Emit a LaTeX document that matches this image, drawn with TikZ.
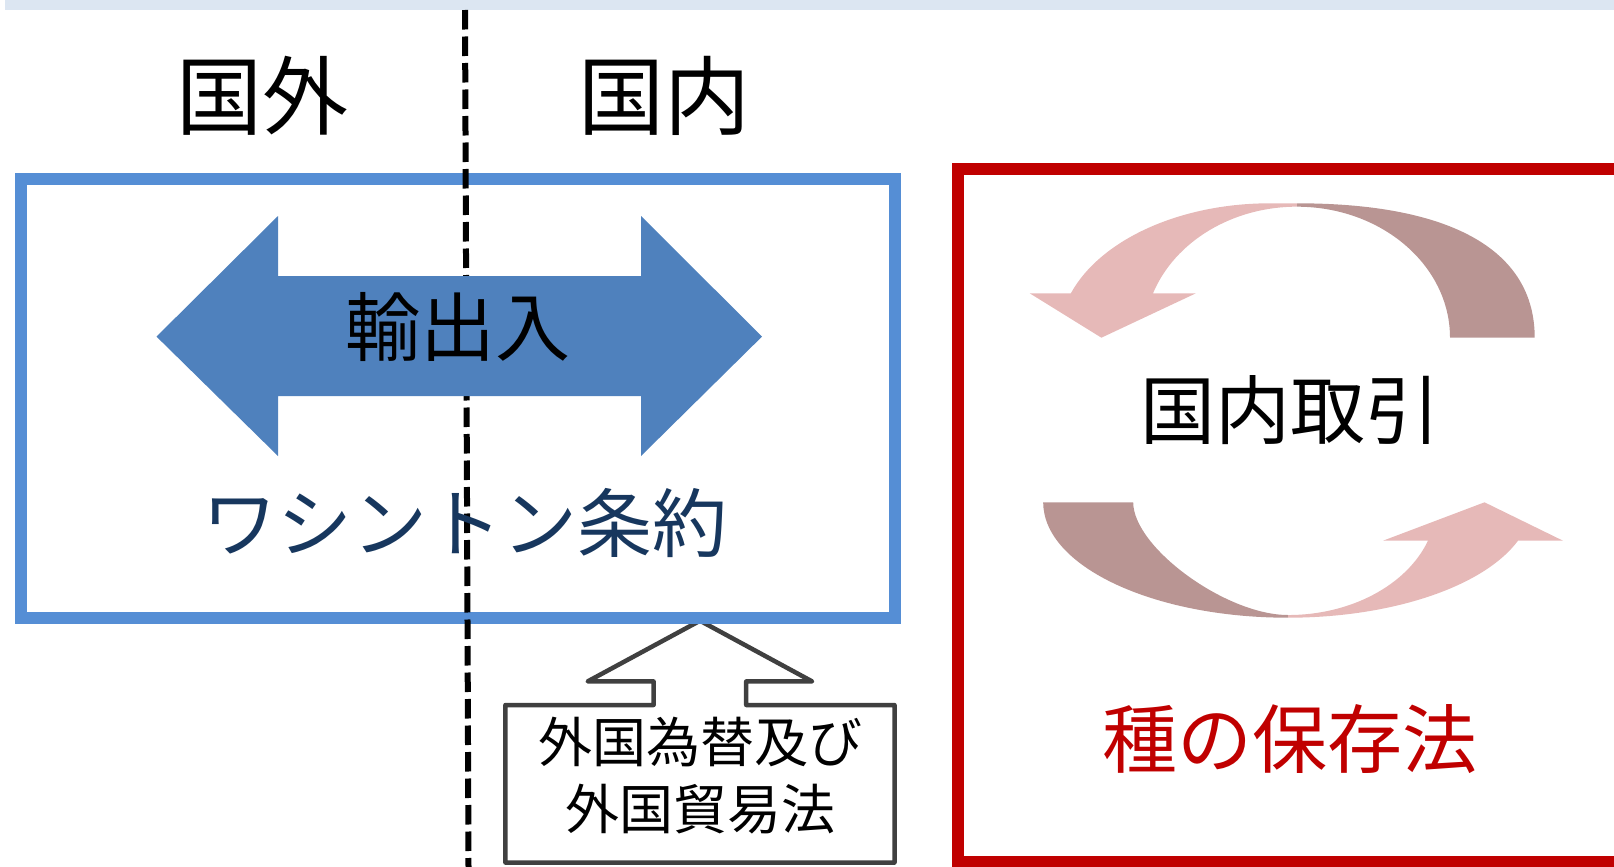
\documentclass[tikz,border=0pt]{standalone}
\usepackage{fontspec}
\setmainfont{Noto Sans CJK JP}
\definecolor{band}{HTML}{DCE6F2}
\definecolor{boxblue}{HTML}{558ED5}
\definecolor{arrblue}{HTML}{4F81BD}
\definecolor{navy}{HTML}{17375E}
\definecolor{boxred}{HTML}{C00000}
\definecolor{calloutgray}{HTML}{404040}
\definecolor{pinklight}{HTML}{E6B9B8}
\definecolor{pinkdark}{HTML}{B99593}
\begin{document}
\begin{tikzpicture}[x=1pt,y=-1pt,
  lbl/.style={inner sep=0pt, text=black},
  big/.style={lbl, font=\fontsize{86}{100}\selectfont},
  mid/.style={lbl, font=\fontsize{75}{90}\selectfont},
  small/.style={lbl, font=\fontsize{54}{67}\selectfont, align=center},
  frame/.style={draw, inner sep=0pt, fill=none},
  divider/.style={line width=6pt, dash pattern=on 19.5pt off 7pt},
  lightpart/.style={fill=pinklight},
  darkpart/.style={fill=pinkdark}]
\useasboundingbox (0,0) rectangle (1614,867);
% top band
\fill[band] (5,0) rectangle (1614,10);

% callout (behind blue box)
\draw[calloutgray, line width=4.5pt, line join=round, fill=white]
  (505.4,705) -- (653.6,705) -- (653.6,681.4) -- (587.7,681.4) -- (700,620.7)
  -- (812.1,681.4) -- (746.2,681.4) -- (746.2,705) -- (894.5,705)
  -- (894.5,862.6) -- (505.4,862.6) -- cycle;
\node[small] (law) at (700,776) {外国為替及び\\外国貿易法};

% blue box
\node[frame, draw=boxblue, line width=12pt, minimum width=874.9pt, minimum height=438.6pt] (wbox) at (458,398.3) {};

% dashed divider
\coordinate (dtop) at (465,10);
\coordinate (dbot) at (468.5,867);
\draw[divider] (dtop) -- (dbot);

% double arrow
\fill[arrblue] (156.5,336.6) -- (278,216) -- (278,276) -- (641,276) -- (641,216)
  -- (762,336.6) -- (641,456) -- (641,396) -- (278,396) -- (278,456) -- cycle;
\node[mid] (io) at (458,327) {輸出入};
\node[mid, text=navy] (wash) at (465,523) {ワシントン条約};

% headings
\node[big] (abroad) at (262,96) {国外};
\node[big] (home) at (664,96) {国内};

% red box
\node[frame, draw=boxred, line width=12pt, minimum width=682pt, minimum height=692.5pt] (rbox) at (1299,515.25) {};

% upper circular arrow
\fill[darkpart] (1534.7,337.7) .. controls (1534.7,250.3) and (1451.5,203.3) .. (1297,203.3)
  -- (1297,206.7) arc[start angle=90,end angle=0,x radius=153pt,y radius=131pt] -- cycle;
\fill[lightpart] (1297,203.3) -- (1270,203.3)
  arc[start angle=90,end angle=160.7,x radius=211pt,y radius=134.4pt]
  -- (1029.7,293.3) -- (1101.4,337.7) -- (1195.9,293.3) -- (1153,293.3)
  arc[start angle=160.2,end angle=90,x radius=153pt,y radius=131pt] -- cycle;

% lower circular arrow
\fill[darkpart] (1043.2,502.3) arc[start angle=180,end angle=270,x radius=244.8pt,y radius=115.4pt]
  -- (1288,615) .. controls (1226,615) and (1133.2,547.4) .. (1133.2,502.3) -- cycle;
\fill[lightpart] (1288,617.7) arc[start angle=270,end angle=340.6,x radius=243.9pt,y radius=115.4pt]
  -- (1563,540.7) -- (1484.5,502.3) -- (1383,540.7) -- (1428,540.7)
  arc[start angle=340.1,end angle=270,x radius=148.9pt,y radius=112.7pt] -- cycle;

\node[mid] (trade) at (1290,410) {国内取引};
\node[mid, text=boxred] (species) at (1290,739) {種の保存法};
\end{tikzpicture}
\end{document}
